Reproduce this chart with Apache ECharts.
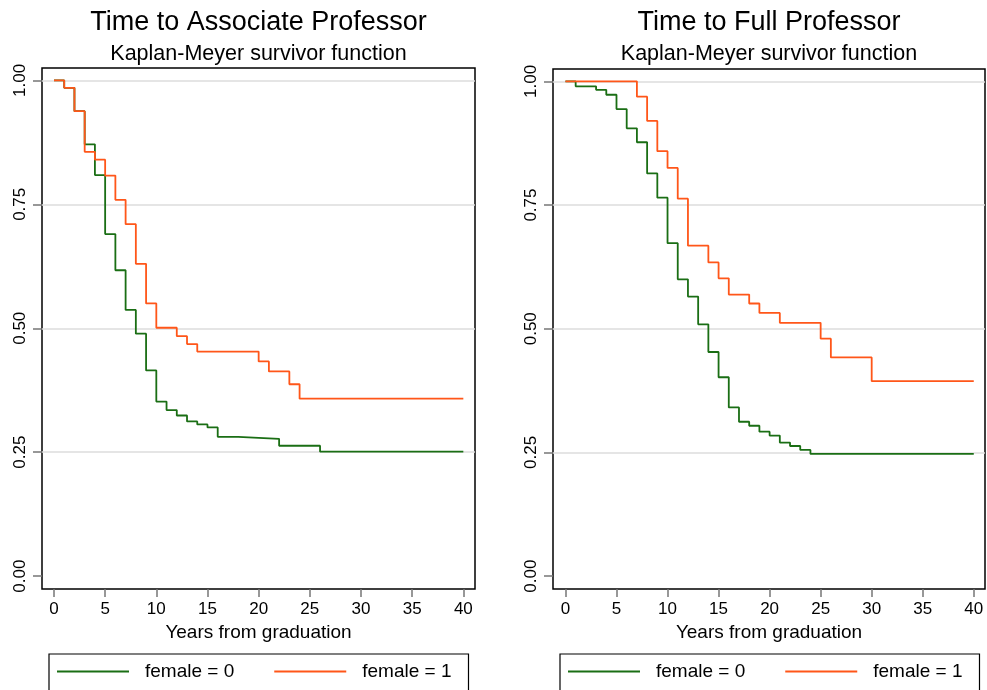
<!DOCTYPE html>
<html>
<head>
<meta charset="utf-8">
<script src="https://cdn.jsdelivr.net/npm/echarts@6/dist/echarts.min.js"></script>
<style>
html,body{margin:0;padding:0;background:#fff;}
#chart{width:987px;height:690px;}
</style>
</head>
<body>
<div id="chart"></div>
<script>
// ---- data ----
var titles = ['Time to Associate Professor', 'Time to Full Professor'];
var subtitle = 'Kaplan-Meyer survivor function';
var xName = 'Years from graduation';
var seriesNames = ['female = 0', 'female = 1'];
var xTicks = [0, 5, 10, 15, 20, 25, 30, 35, 40];
var yTicks = [0, 0.25, 0.5, 0.75, 1];
var gridValues = [0.25, 0.5, 0.75, 1];

// Associate professor
var assocT0 = [0, 1, 2, 3, 4, 5, 6, 7, 8, 9, 10, 11, 12, 13, 14, 15, 16, 18, 22, 26, 40];
var assocS0 = [1, 0.985, 0.938, 0.871, 0.809, 0.690, 0.617, 0.537, 0.489, 0.415, 0.352, 0.335, 0.324, 0.312, 0.306, 0.300, 0.281, 0.277, 0.263, 0.251, 0.251];
var assocT1 = [0, 1, 2, 3, 4, 5, 6, 7, 8, 9, 10, 12, 13, 14, 20, 21, 23, 24, 40];
var assocS1 = [1, 0.985, 0.938, 0.856, 0.840, 0.808, 0.759, 0.710, 0.630, 0.550, 0.501, 0.484, 0.468, 0.453, 0.433, 0.413, 0.387, 0.358, 0.358];

// Full professor
var fullT0 = [0, 1, 3, 4, 5, 6, 7, 8, 9, 10, 11, 12, 13, 14, 15, 16, 17, 18, 19, 20, 21, 22, 23, 24, 40];
var fullS0 = [1, 0.990, 0.983, 0.973, 0.944, 0.905, 0.877, 0.814, 0.765, 0.673, 0.600, 0.565, 0.509, 0.453, 0.402, 0.341, 0.312, 0.304, 0.292, 0.284, 0.270, 0.263, 0.255, 0.247, 0.247];
var fullT1 = [0, 7, 8, 9, 10, 11, 12, 14, 15, 16, 18, 19, 21, 25, 26, 30, 40];
var fullS1 = [1, 0.969, 0.920, 0.859, 0.825, 0.763, 0.668, 0.634, 0.602, 0.569, 0.551, 0.532, 0.512, 0.480, 0.442, 0.394, 0.394];

function pairs(t, s) { return t.map(function (v, i) { return [v, s[i]]; }); }

var GREEN = '#1a6e14';
var ORANGE = '#ff5619';
var FONT = 'Liberation Sans, Arial, sans-serif';

var grids = [
  { left: 42, top: 68, width: 433, height: 521 },
  { left: 553, top: 69, width: 432, height: 520 }
];
var xRanges = [[-1.17, 41.14], [-1.22, 41.1]];

var option = {
  animation: false,
  backgroundColor: '#fff',
  textStyle: { fontFamily: FONT },
  title: grids.map(function (g, i) {
    return {
      text: titles[i], subtext: subtitle,
      left: g.left + g.width / 2, top: 9, padding: 0, itemGap: 7,
      textAlign: 'center',
      textStyle: { fontFamily: FONT, fontSize: 27, fontWeight: 'normal', color: '#000' },
      subtextStyle: { fontFamily: FONT, fontSize: 21.5, color: '#000' }
    };
  }),
  grid: grids.map(function (g) {
    return { left: g.left, top: g.top, width: g.width, height: g.height, show: true,
      borderColor: '#000', borderWidth: 1.5, backgroundColor: '#fff' };
  }),
  xAxis: grids.map(function (g, i) {
    return {
      type: 'value', gridIndex: i, min: xRanges[i][0], max: xRanges[i][1],
      name: xName, nameLocation: 'middle', nameGap: 33,
      nameTextStyle: { fontFamily: FONT, fontSize: 19, color: '#000' },
      axisLine: { show: false, onZero: false },
      axisTick: { show: true, inside: false, length: 8, customValues: xTicks, lineStyle: { color: '#777', width: 1.5 } },
      axisLabel: { show: true, customValues: xTicks, margin: 12, fontFamily: FONT, fontSize: 17, color: '#000' },
      splitLine: { show: false }
    };
  }),
  yAxis: grids.map(function (g, i) {
    return {
      type: 'value', gridIndex: i, min: -0.026, max: 1.025,
      axisLine: { show: false, onZero: false },
      axisTick: { show: true, inside: false, length: 9, customValues: yTicks, lineStyle: { color: '#777', width: 1.5 } },
      axisLabel: { show: true, customValues: yTicks, rotate: 90, margin: 13, fontFamily: FONT, fontSize: 17, color: '#000',
        formatter: function (v) { return v.toFixed(2); } },
      splitLine: { show: false }
    };
  }),
  legend: grids.map(function (g, i) {
    return {
      left: i === 0 ? 49 : 560, top: 654,
      orient: 'horizontal',
      data: seriesNames.map(function (n) { return { name: n, icon: 'rect' }; }),
      itemWidth: 72, itemHeight: 2, itemGap: 40,
      padding: [8, 17, 24, 8],
      borderColor: '#000', borderWidth: 1.2, backgroundColor: '#fff',
      textStyle: { fontFamily: FONT, fontSize: 19, color: '#000', padding: [0, 0, 0, 11] },
      selectedMode: false
    };
  }),
  series: []
};

var sets = [
  [pairs(assocT0, assocS0), pairs(assocT1, assocS1)],
  [pairs(fullT0, fullS0), pairs(fullT1, fullS1)]
];
var colors = [GREEN, ORANGE];

[0, 1].forEach(function (gi) {
  option.series.push({
    type: 'line', name: 'grid' + gi, xAxisIndex: gi, yAxisIndex: gi, data: [],
    z: 1, silent: true,
    markLine: {
      z: 1, silent: true, symbol: 'none', label: { show: false },
      lineStyle: { color: '#dcdcdc', width: 1.5, type: 'solid' },
      emphasis: { disabled: true },
      data: gridValues.map(function (v) { return { yAxis: v }; })
    }
  });
  [0, 1].forEach(function (si) {
    option.series.push({
      type: 'line', name: seriesNames[si], xAxisIndex: gi, yAxisIndex: gi,
      data: sets[gi][si], step: 'end', showSymbol: false, symbol: 'none', z: 3 + si,
      color: colors[si],
      lineStyle: { color: colors[si], width: 1.8 },
      itemStyle: { color: colors[si] },
      emphasis: { disabled: true }
    });
  });
});

var chart = echarts.init(document.getElementById('chart'), null, { renderer: 'canvas' });
chart.setOption(option);
</script>
</body>
</html>
